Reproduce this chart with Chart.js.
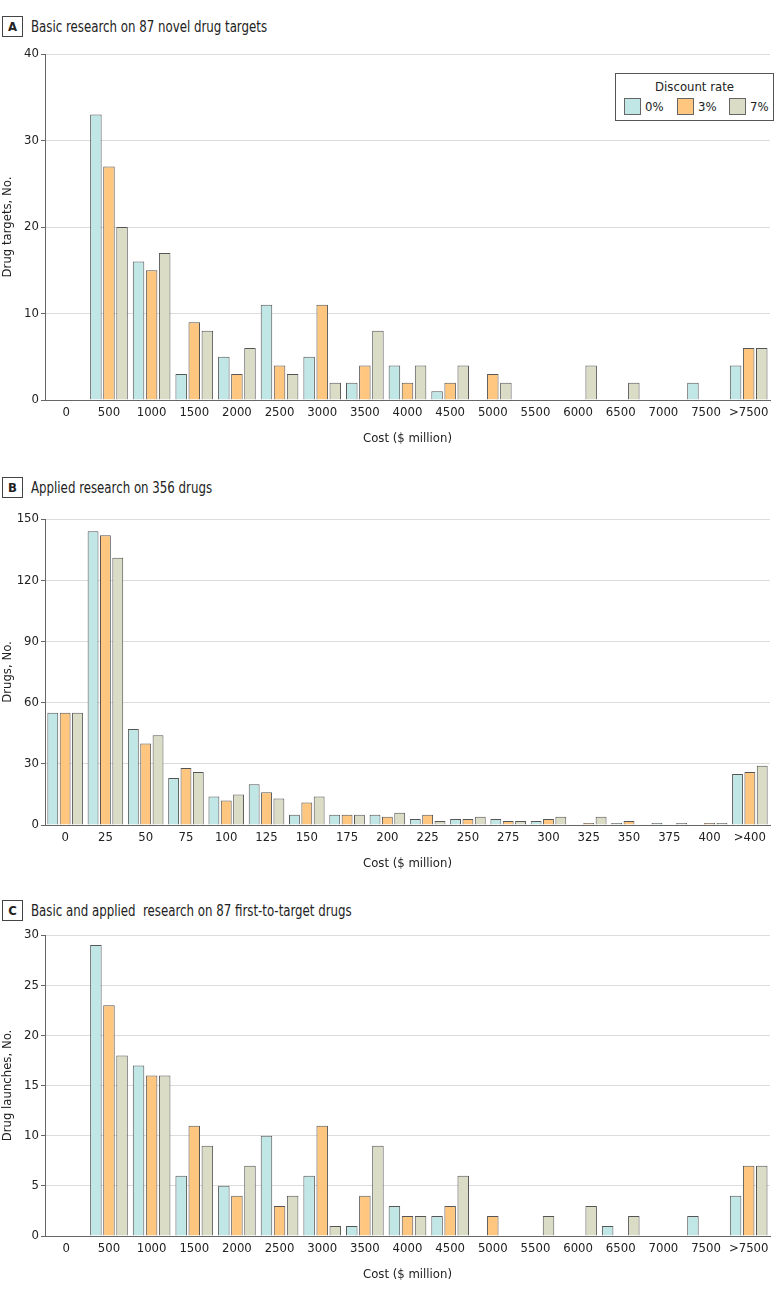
<!DOCTYPE html>
<html>
<head>
<meta charset="utf-8">
<script src="https://cdn.jsdelivr.net/npm/chart.js@4/dist/chart.umd.min.js"></script>
<style>
  body { margin: 0; background: #fff; font-family: 'DejaVu Sans Condensed', sans-serif; color: #222; }
  #page { position: relative; width: 780px; height: 1295px; }
  .title { position: absolute; left: 2px; font-size: 16px; white-space: pre; display: flex; align-items: center; }
  .title b { display: inline-block; width: 19px; height: 19px; border: 1px solid #444; text-align: center; line-height: 19px; font-size: 13px; margin-right: 8px; }
  .title span { display: inline-block; transform: scaleX(0.82); transform-origin: left center; }
  .box { position: absolute; left: 0; width: 780px; }
  #legend { position: absolute; left: 615px; top: 73px; width: 157px; height: 46px; border: 1px solid #555; background: #fff; font-size: 13px; }
  #legend .lt { text-align: center; margin-top: 5px; }
  #legend .it { position: absolute; top: 24px; display: flex; align-items: center; }
  #legend .sw { width: 15px; height: 15px; border: 1px solid #666; margin-right: 4px; }
</style>
</head>
<body>
<div id="page">
  <div class="title" style="top:16px"><b>A</b><span>Basic research on 87 novel drug targets</span></div>
  <div class="title" style="top:477px"><b>B</b><span>Applied research on 356 drugs</span></div>
  <div class="title" style="top:900px"><b>C</b><span>Basic and applied  research on 87 first-to-target drugs</span></div>
  <div class="box" style="top:44px;height:406px"><canvas id="chartA"></canvas></div>
  <div class="box" style="top:509px;height:366px"><canvas id="chartB"></canvas></div>
  <div class="box" style="top:925px;height:361px"><canvas id="chartC"></canvas></div>
  <div id="legend"></div>
</div>
<script>
// discount rates
const rates = ['0%', '3%', '7%'];
const rateColors = ['#c0e6e6', '#fec67e', '#dadcc6'];

// A: basic research, 87 novel drug targets
const costLabelsA = ['0', '500', '1000', '1500', '2000', '2500', '3000', '3500', '4000', '4500', '5000', '5500', '6000', '6500', '7000', '7500', '>7500'];
const targetsA0 = [0, 33, 16, 3, 5, 11, 5, 2, 4, 1, 0, 0, 0, 0, 0, 2, 4];
const targetsA3 = [0, 27, 15, 9, 3, 4, 11, 4, 2, 2, 3, 0, 0, 0, 0, 0, 6];
const targetsA7 = [0, 20, 17, 8, 6, 3, 2, 8, 4, 4, 2, 0, 4, 2, 0, 0, 6];

// B: applied research, 356 drugs
const costLabelsB = ['0', '25', '50', '75', '100', '125', '150', '175', '200', '225', '250', '275', '300', '325', '350', '375', '400', '>400'];
const drugsB0 = [55, 144, 47, 23, 14, 20, 5, 5, 5, 3, 3, 3, 2, 0, 1, 1, 0, 25];
const drugsB3 = [55, 142, 40, 28, 12, 16, 11, 5, 4, 5, 3, 2, 3, 1, 2, 0, 1, 26];
const drugsB7 = [55, 131, 44, 26, 15, 13, 14, 5, 6, 2, 4, 2, 4, 4, 0, 1, 1, 29];

// C: basic + applied, 87 first-to-target drugs
const costLabelsC = costLabelsA;
const launchesC0 = [0, 29, 17, 6, 5, 10, 6, 1, 3, 2, 0, 0, 0, 1, 0, 2, 4];
const launchesC3 = [0, 23, 16, 11, 4, 3, 11, 4, 2, 3, 2, 0, 0, 0, 0, 0, 7];
const launchesC7 = [0, 18, 16, 9, 7, 4, 1, 9, 2, 6, 0, 2, 3, 2, 0, 0, 7];

Chart.defaults.font.family = "'DejaVu Sans Condensed', sans-serif";
Chart.defaults.color = '#222';

function makeChart(id, labels, series, yMax, yStep, yTitle) {
    const ctx = document.getElementById(id);
    new Chart(ctx, {
        type: 'bar',
        data: {
            labels: labels,
            datasets: series.map((vals, i) => ({
                label: rates[i],
                data: vals,
                backgroundColor: rateColors[i],
                borderColor: '#555',
                borderWidth: 1,
                categoryPercentage: 0.92,
                barPercentage: 0.88
            }))
        },
        options: {
            responsive: true,
            maintainAspectRatio: false,
            animation: false,
            layout: { padding: { top: 10, right: 10, left: 0, bottom: 0 } },
            plugins: { legend: { display: false }, tooltip: { enabled: false } },
            scales: {
                x: {
                    grid: { display: false, drawTicks: false },
                    border: { color: '#666' },
                    ticks: { font: { size: 13 }, padding: 5, maxRotation: 0, autoSkip: false },
                    title: { display: true, text: 'Cost ($ million)', font: { size: 13 }, padding: { top: 10 } },
                    afterFit: s => { s.height = 50; }
                },
                y: {
                    min: 0,
                    max: yMax,
                    ticks: { stepSize: yStep, font: { size: 13 }, padding: 2 },
                    grid: { color: '#dcdcdc', tickColor: '#666', tickLength: 4 },
                    border: { color: '#666' },
                    title: { display: true, text: yTitle, font: { size: 13 }, padding: 0 },
                    afterFit: s => { s.width = 45; }
                }
            }
        }
    });
}

makeChart('chartA', costLabelsA, [targetsA0, targetsA3, targetsA7], 40, 10, 'Drug targets, No.');
makeChart('chartB', costLabelsB, [drugsB0, drugsB3, drugsB7], 150, 30, 'Drugs, No.');
makeChart('chartC', costLabelsC, [launchesC0, launchesC3, launchesC7], 30, 5, 'Drug launches, No.');

// legend
const lg = document.getElementById('legend');
lg.innerHTML = '<div class="lt">Discount rate</div>';
const legendX = [8, 61, 113];
rates.forEach((r, i) => {
    const it = document.createElement('div');
    it.className = 'it';
    it.style.left = legendX[i] + 'px';
    it.innerHTML = '<span class="sw" style="background:' + rateColors[i] + '"></span>' + r;
    lg.appendChild(it);
});
</script>
</body>
</html>
